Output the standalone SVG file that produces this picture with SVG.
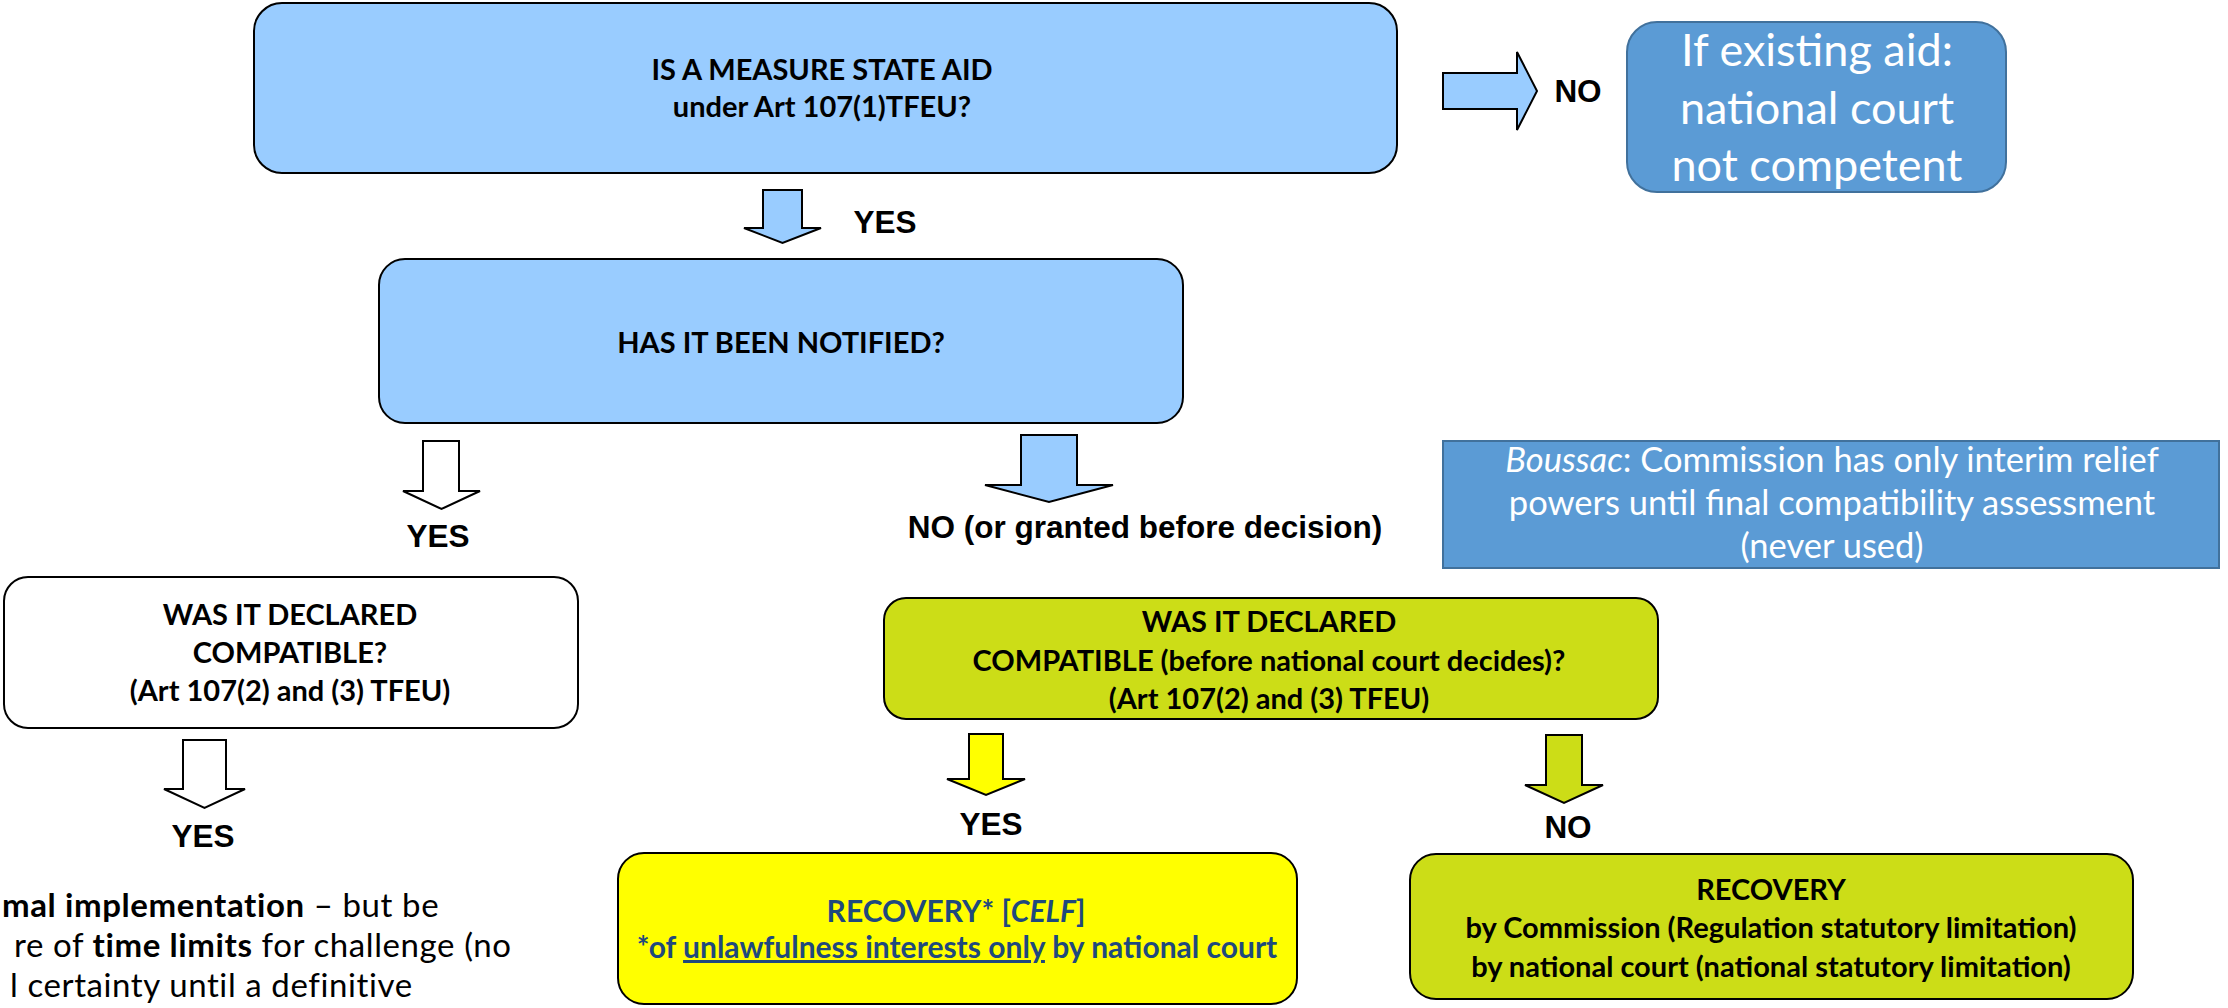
<svg xmlns="http://www.w3.org/2000/svg" width="2228" height="1008" viewBox="0 0 2228 1008">
<style>
.node{stroke:#000;stroke-width:2}
.blue{fill:#99CCFF}
.white{fill:#FFFFFF}
.green{fill:#CCDD17}
.yellow{fill:#FFFF00}
.dark{fill:#5B9BD5;stroke:#41719C;stroke-width:2}
.arr{stroke:#000;stroke-width:2;stroke-linejoin:miter}
.t{font-family:Lato,"Liberation Sans",sans-serif;font-weight:bold;font-size:29px;fill:#000;text-anchor:middle}
.lbl{font-family:"Liberation Sans",Arial,sans-serif;font-weight:bold;font-size:31.5px;fill:#000;text-anchor:middle}
.wt{font-family:Lato,"Liberation Sans",sans-serif;fill:#FFFFFF;text-anchor:middle}
.bt{font-family:Lato,"Liberation Sans",sans-serif;font-weight:bold;font-size:30px;fill:#1F497D;text-anchor:middle}
.body{font-family:Lato,"Liberation Sans",sans-serif;font-size:33px;letter-spacing:0.6px;fill:#000}
</style>
<rect width="2228" height="1008" fill="#FFFFFF"/>
<g id="connectors">
<path class="arr blue" d="M763,190 H802 V228 H821 L782.5,243 L744,228 H763 Z"/>
<text class="lbl" x="885" y="233">YES</text>
<path class="arr blue" d="M1443,73 H1517 V52 L1537,91 L1517,130 V109 H1443 Z"/>
<text class="lbl" x="1578" y="102">NO</text>
<path class="arr white" d="M423,441 H459 V491 H480 L441.5,509 L403,491 H423 Z"/>
<text class="lbl" x="438" y="547">YES</text>
<path class="arr blue" d="M1021,435 H1077 V485 H1113 L1049,502 L985,485 H1021 Z"/>
<text class="lbl" x="1145" y="538">NO (or granted before decision)</text>
<path class="arr white" d="M183,740 H226 V789 H245 L204.5,808 L164,789 H183 Z"/>
<text class="lbl" x="203" y="847">YES</text>
<path class="arr yellow" d="M969,734 H1003 V779 H1025 L986,795 L947,779 H969 Z"/>
<text class="lbl" x="991" y="835">YES</text>
<path class="arr green" d="M1546,735 H1582 V785 H1603 L1564,803 L1525,785 H1546 Z"/>
<text class="lbl" x="1568" y="838">NO</text>
</g>
<g id="n-stateaid">
<rect class="node blue" x="254" y="3" width="1143" height="170" rx="28"/>
<text class="t" x="822" y="80">IS A MEASURE STATE AID</text>
<text class="t" x="822" y="117">under Art 107(1)TFEU?</text>
</g>
<g id="n-existing">
<rect class="dark" x="1627" y="22" width="379" height="170" rx="30"/>
<text class="wt" x="1817" y="66" font-size="45">If existing aid:</text>
<text class="wt" x="1817" y="124" font-size="45">national court</text>
<text class="wt" x="1817" y="181" font-size="45">not competent</text>
</g>
<g id="n-notified">
<rect class="node blue" x="379" y="259" width="804" height="164" rx="26"/>
<text class="t" x="781" y="353">HAS IT BEEN NOTIFIED?</text>
</g>
<g id="n-boussac">
<rect class="dark" x="1443" y="441" width="776" height="127"/>
<text class="wt" x="1832" y="472" font-size="34.5"><tspan font-style="italic">Boussac</tspan>: Commission has only interim relief</text>
<text class="wt" x="1832" y="515" font-size="34.5">powers until final compatibility assessment</text>
<text class="wt" x="1832" y="558" font-size="34.5">(never used)</text>
</g>
<g id="n-compatible-left">
<rect class="node white" x="4" y="577" width="574" height="151" rx="24"/>
<text class="t" x="290" y="625">WAS IT DECLARED</text>
<text class="t" x="290" y="663">COMPATIBLE?</text>
<text class="t" x="290" y="701">(Art 107(2) and (3) TFEU)</text>
</g>
<g id="n-compatible-right">
<rect class="node green" x="884" y="598" width="774" height="121" rx="22"/>
<text class="t" x="1269" y="632">WAS IT DECLARED</text>
<text class="t" x="1269" y="671">COMPATIBLE (before national court decides)?</text>
<text class="t" x="1269" y="709">(Art 107(2) and (3) TFEU)</text>
</g>
<g id="n-normal">
<text class="body" x="2" y="917"><tspan font-weight="bold">mal implementation</tspan> – but be</text>
<text class="body" x="14" y="957">re of <tspan font-weight="bold">time limits</tspan> for challenge (no</text>
<text class="body" x="10" y="997">l certainty until a definitive</text>
</g>
<g id="n-recovery-yes">
<rect class="node yellow" x="618" y="853" width="679" height="151" rx="26"/>
<text class="bt" x="956" y="922">RECOVERY* [<tspan font-style="italic">CELF</tspan>]</text>
<text class="bt" x="957" y="958">*of <tspan text-decoration="underline">unlawfulness interests only</tspan> by national court</text>
</g>
<g id="n-recovery-no">
<rect class="node green" x="1410" y="854" width="723" height="145" rx="26"/>
<text class="t" x="1771" y="900">RECOVERY</text>
<text class="t" x="1771" y="938">by Commission (Regulation statutory limitation)</text>
<text class="t" x="1771" y="977">by national court (national statutory limitation)</text>
</g>
</svg>
